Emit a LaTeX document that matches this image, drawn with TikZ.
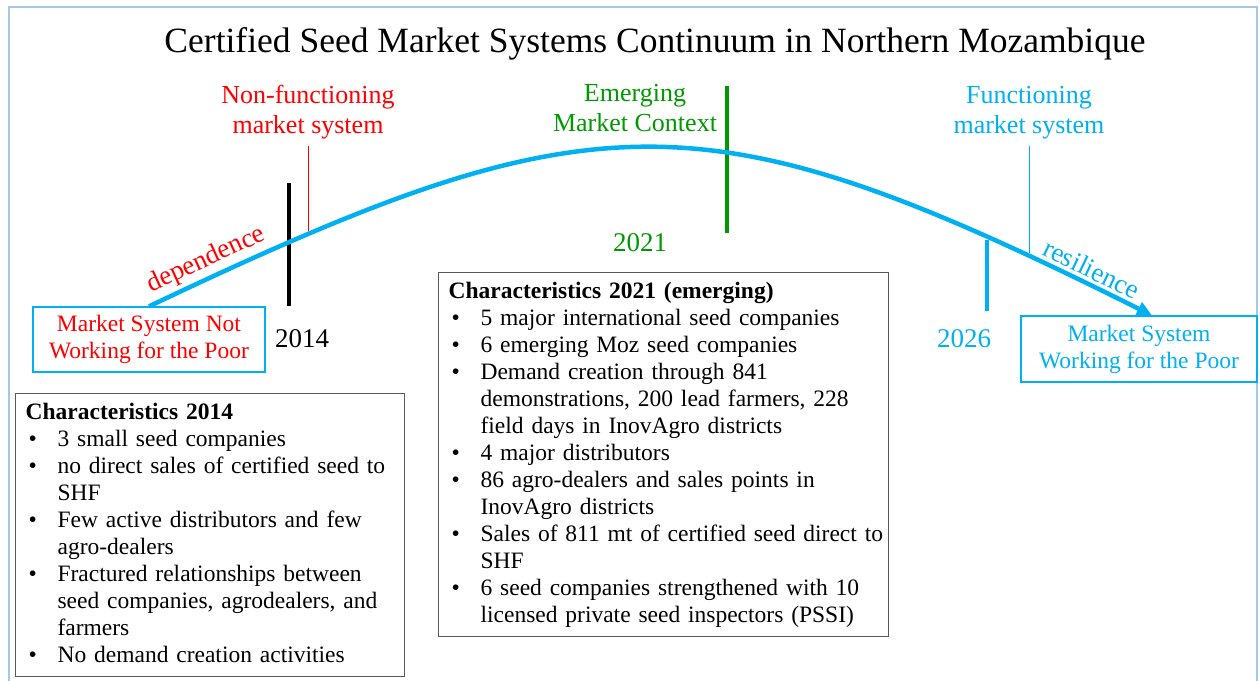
\documentclass[tikz,border=0pt]{standalone}
\usepackage{fontspec}
\setmainfont{Liberation Serif}
\usetikzlibrary{arrows.meta}
\definecolor{seedblue}{HTML}{00B0F0}
\definecolor{seedgreen}{HTML}{009A00}
\definecolor{frameblue}{HTML}{A4C8E6}
\newcommand{\bitem}[1]{\hspace*{3pt}\makebox[29pt][l]{\textbullet}#1}
\newcommand{\bcont}[1]{\hspace*{32pt}#1}

\begin{document}
\begin{tikzpicture}[x=1pt, y=-1pt,
    label/.style={align=center, font=\fontsize{26}{30}\selectfont, inner sep=2pt},
    year/.style={font=\fontsize{27}{30}\selectfont},
    endbox/.style={draw=seedblue, line width=1.2, align=center,
                   font=\fontsize{23.5}{27}\selectfont},
    charbox/.style={draw=black!65, line width=1.2, anchor=north west,
                    text width=#1, inner xsep=10, inner ysep=6.5, align=left,
                    font=\fontsize{23.5}{27}\selectfont}]
    \useasboundingbox (0,0) rectangle (1260,680);
    \draw[frameblue, line width=2.5] (9,7) rectangle (1257,720);

    \node[anchor=base, font=\fontsize{35.5}{40}\selectfont] (title) at (655,52)
      {Certified Seed Market Systems Continuum in Northern Mozambique};

    \node[label, red, anchor=base] (nonfun) at (308,133) {Non-functioning\\market system};
    \node[label, seedgreen, anchor=base] (emerg) at (635,131) {Emerging\\Market Context};
    \node[label, seedblue, anchor=base] (func) at (1029,133) {Functioning\\market system};

    \node[endbox, text=red, minimum width=232, minimum height=65] (notwork) at (149,339.5)
      {Market System Not\\Working for the Poor};
    \node[endbox, text=seedblue, minimum width=236, minimum height=66] (work) at (1139,349)
      {Market System\\Working for the Poor};

    \node[year, anchor=base] (y2014) at (302,347) {2014};
    \node[year, seedgreen, anchor=base] (y2021) at (640,251) {2021};
    \node[year, seedblue, anchor=base] (y2026) at (964,347) {2026};

    \draw[line width=4] (289,183) -- (289,306);
    \draw[seedgreen, line width=4] (727,86) -- (727,233);
    \draw[seedblue, line width=4] (987,240) -- (987,311);
    \draw[red, line width=1] (308,146) -- (308,231);
    \draw[seedblue, line width=0.8] (1029,146) -- (1029,253);

    \draw[seedblue, line width=4.5, -{Triangle[length=15,width=14]}]
      (notwork.north) .. controls (597,93) and (706,93) .. ([xshift=13]work.north)
      node[pos=0.05, sloped, above, red, font=\fontsize{27}{30}\selectfont] {dependence}
      node[pos=0.948, sloped, above, font=\fontsize{27}{30}\selectfont] {resilience};

    \node[charbox=369] (char14) at (15,393) {\begin{tabular}{@{}l@{}}
      \textbf{Characteristics 2014}\\
      \bitem{3 small seed companies}\\
      \bitem{no direct sales of certified seed to}\\
      \bcont{SHF}\\
      \bitem{Few active distributors and few}\\
      \bcont{agro-dealers}\\
      \bitem{Fractured relationships between}\\
      \bcont{seed companies, agrodealers, and}\\
      \bcont{farmers}\\
      \bitem{No demand creation activities}
    \end{tabular}};

    \node[charbox=430] (char21) at (438,272) {\begin{tabular}{@{}l@{}}
      \textbf{Characteristics 2021 (emerging)}\\
      \bitem{5 major international seed companies}\\
      \bitem{6 emerging Moz seed companies}\\
      \bitem{Demand creation through 841}\\
      \bcont{demonstrations, 200 lead farmers, 228}\\
      \bcont{field days in InovAgro districts}\\
      \bitem{4 major distributors}\\
      \bitem{86 agro-dealers and sales points in}\\
      \bcont{InovAgro districts}\\
      \bitem{Sales of 811 mt of certified seed direct to}\\
      \bcont{SHF}\\
      \bitem{6 seed companies strengthened with 10}\\
      \bcont{licensed private seed inspectors (PSSI)}
    \end{tabular}};
\end{tikzpicture}
\end{document}
